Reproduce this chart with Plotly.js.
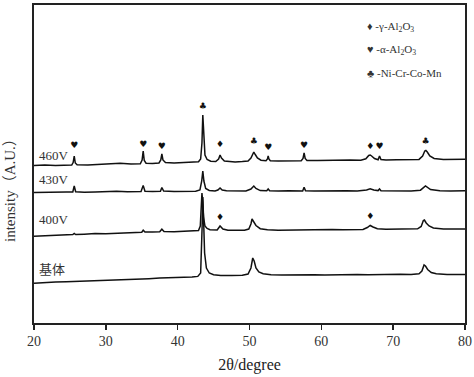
<!DOCTYPE html>
<html>
<head>
<meta charset="utf-8">
<script src="https://cdn.plot.ly/plotly-3.0.1.min.js"></script>
<style>html,body{margin:0;padding:0;background:#fff;}#chart{width:474px;height:377px;}</style>
</head>
<body>
<div id="chart"></div>
<script>
// 2θ (degree) and intensity (A.U., vertically offset patterns)
const x460 = [20,21.5,23,24.5,25.25,25.45,25.6,25.75,26.0,27.5,29,30.5,32,33.5,34.8,35.05,35.2,35.35,35.6,36.5,37.4,37.65,37.8,37.95,38.3,39.5,40.5,41.5,42.5,42.9,43.2,43.38,43.5,43.62,43.8,44.1,44.6,45.3,45.7,45.9,46.1,46.5,47.2,48,49,49.8,50.2,50.45,50.6,50.8,51.1,51.6,52.3,52.5,52.6,52.7,52.9,54,55.5,57.2,57.45,57.6,57.75,58.0,59.5,61,62.5,64,65.5,66.2,66.6,66.8,67.0,67.4,67.9,68.1,68.3,69,70.5,72,73.6,74.1,74.4,74.55,74.75,75.1,75.7,77,78.5,80];
const y460 = [157.5,158.0,157.6,158.2,158.0,160.5,167,160,158.3,158.0,158.6,159.3,159.8,159.0,159.2,163,172,162.5,159.8,159.5,160.0,163,169,163,160.4,160.0,160.3,160.2,160.6,161.2,164,180,208,185,168,163.5,161.8,161.5,164,168,165,162,161.3,161.0,161.4,162.0,165,170,171,168.5,165,162.8,162.2,164,167,164,162.3,162.0,162.4,162.3,164.5,170,164.5,162.6,162.4,162.8,162.6,163.0,162.8,164.2,167.5,168,167,164.5,163.3,167,163.5,163.0,163.3,163.1,163.6,167,172,172.5,171,167,164.5,163.6,163.4,163.8];

const x430 = [20,21.5,23,24.5,25.4,25.6,25.8,27,28.5,30,31.5,33,34.9,35.2,35.45,36.5,37.6,37.8,38.05,39.5,41,42.5,43.1,43.35,43.5,43.65,43.9,44.4,45.2,45.6,45.9,46.2,46.8,48,49.5,50.2,50.6,50.9,51.5,52.4,52.6,52.8,54,55.5,57.4,57.6,57.8,59,60.5,62,63.5,65,66.3,66.8,67.3,67.9,68.1,68.3,69.5,71,72.5,73.8,74.5,75.2,76.5,78,80];
const y430 = [130.5,130.9,130.6,131.0,131.0,137,131.2,130.8,131.1,131.5,131.8,131.3,131.4,137.5,131.8,131.5,131.8,135.5,131.9,131.6,131.9,131.8,133,142,152,142,134.5,132.5,132.0,133,135,133,132.2,131.9,132.1,134,137,134.5,132.4,132.2,134,132.2,131.9,132.3,132.1,135.8,132.2,132.0,132.3,131.9,132.2,132.0,133,134.3,133,132.4,134,132.3,132.0,132.2,131.9,132.8,137,133.5,132.2,132.0,132.2];

const x400 = [20,21.5,23,24.5,25.4,25.6,25.8,27,28.5,30,31.5,33,34.5,35.0,35.2,35.45,36.5,37.5,37.8,38.1,39.5,41,42.3,42.9,43.15,43.28,43.38,43.48,43.6,43.8,44.1,44.5,45.0,45.5,45.9,46.3,47,48.2,49.3,49.9,50.2,50.35,50.55,50.9,51.5,52.5,54,55.5,57,58.5,60,61.5,63,64.5,65.8,66.4,66.8,67.2,67.8,69,70.5,72,73.4,73.9,74.2,74.35,74.6,75,75.6,77,78.5,80];
const y400 = [86.8,87.4,87.9,88.2,88.4,89.5,88.5,88.8,89.4,89.2,89.9,90.3,90.6,90.8,92.8,90.9,91.0,91.2,93.8,91.4,91.3,91.7,91.8,92.5,97,118,130,122,106,97,94.5,93.3,92.8,93.0,97,94,92.8,92.5,92.8,94,99,104,102,97.5,94.3,93.2,92.8,93.0,92.7,93.1,93.0,93.4,93.2,93.6,93.5,95.5,97.5,96,94.2,93.8,94.0,93.7,94.2,96.5,102.5,103,100,97,95,94.0,94.3,94.1];

const xSub = [20,21.5,23,24.5,26,27.5,28.8,30,31.5,33,34.5,36,37.5,39,40.5,42,42.8,43.2,43.4,43.5,43.6,43.75,44.0,44.4,45,46,47.5,49,49.8,50.2,50.45,50.65,50.9,51.3,51.9,53,54.5,56,57.5,59,60.5,62,63.5,65,66.5,68,69.5,71,72.5,73.6,74.0,74.3,74.5,74.8,75.3,76,77.5,79,80];
const ySub = [39.8,40.6,40.9,41.3,41.6,42.0,42.9,42.6,43.1,43.5,43.8,44.3,44.9,45.1,45.6,46.0,46.6,50,95,126,105,70,55,50,48.3,47.6,47.4,47.7,49,55,65,62,55,51,49.2,48.3,48.0,48.3,47.9,48.2,48.0,48.4,48.2,48.5,48.3,48.6,48.4,48.7,48.5,49.2,52,58,57,53.5,50.5,49.2,48.6,48.8,48.5];

// phase markers above peaks
const markX = [25.6,35.2,37.8,43.5,45.9,50.6,52.6,57.6,66.8,68.1,74.5,45.9,66.8];
const markY = [177,178,176,216,178,181,175,177,176,176,181,105,106];
const markSym = ['♥','♥','♥','♣','♦','♣','♥','♥','♦','♥','♣','♦','♦'];

const seriesNames = ['460V','430V','400V','基体'];
const labelY = [168,144,104,54];

const legendTexts = ['♦ -γ-Al<sub>2</sub>O<sub>3</sub>','♥ -α-Al<sub>2</sub>O<sub>3</sub>','♣ -Ni-Cr-Co-Mn'];
const legendY = [296,273,250];

const xTicks = [20,30,40,50,60,70,80];

const serif = '"Liberation Serif", "DejaVu Serif", serif';
const lineStyle = {color:'#111', width:1.5};

const traces = [
  {x:x460, y:y460, name:seriesNames[0], mode:'lines', line:lineStyle},
  {x:x430, y:y430, name:seriesNames[1], mode:'lines', line:lineStyle},
  {x:x400, y:y400, name:seriesNames[2], mode:'lines', line:lineStyle},
  {x:xSub, y:ySub, name:seriesNames[3], mode:'lines', line:lineStyle},
  {x:markX, y:markY, text:markSym, mode:'text', textposition:'middle center',
   textfont:{family:'"DejaVu Sans", sans-serif', size:9, color:'#111'}, hoverinfo:'skip'}
];

const annotations = [];
seriesNames.forEach((n,i)=>{
  annotations.push({x:20.4, y:labelY[i], xref:'x', yref:'y', text:n, showarrow:false,
    xanchor:'left', yanchor:'middle',
    font:{family:'"Liberation Serif", "Noto Sans CJK SC", serif', size:13, color:'#333'}});
});
legendTexts.forEach((t,i)=>{
  annotations.push({x:66.1, y:legendY[i], xref:'x', yref:'y', text:t, showarrow:false,
    xanchor:'left', yanchor:'middle', font:{family:serif, size:11, color:'#333'}});
});
// y-axis title placed as rotated text left of the frame (plot area: x 34..465, y 5..323 px)
annotations.push({x:(10-34)/431, y:(323-187)/318, xref:'paper', yref:'paper', text:'intensity（A.U.）',
  showarrow:false, textangle:-90, xanchor:'center', yanchor:'middle',
  font:{family:'"Liberation Serif", "Noto Sans CJK SC", serif', size:15, color:'#333'}});

const layout = {
  width:474, height:377,
  margin:{l:34, r:9, t:5, b:54},
  paper_bgcolor:'#fff', plot_bgcolor:'#fff',
  showlegend:false,
  xaxis:{range:[20,80], tickvals:xTicks, ticktext:xTicks.map(String), ticks:'outside', ticklen:5, tickwidth:1.5,
    tickcolor:'#222', showline:true, linecolor:'#222', linewidth:1.6, mirror:true, showgrid:false, zeroline:false,
    tickfont:{family:serif, size:14, color:'#333'},
    title:{text:'2θ/degree', font:{family:serif, size:16, color:'#222'}, standoff:10}},
  yaxis:{range:[0,318], showticklabels:false, ticks:'', showline:true, linecolor:'#222', linewidth:1.6,
    mirror:true, showgrid:false, zeroline:false},
  annotations:annotations
};

Plotly.newPlot('chart', traces, layout, {staticPlot:true, displayModeBar:false});
</script>
</body>
</html>
